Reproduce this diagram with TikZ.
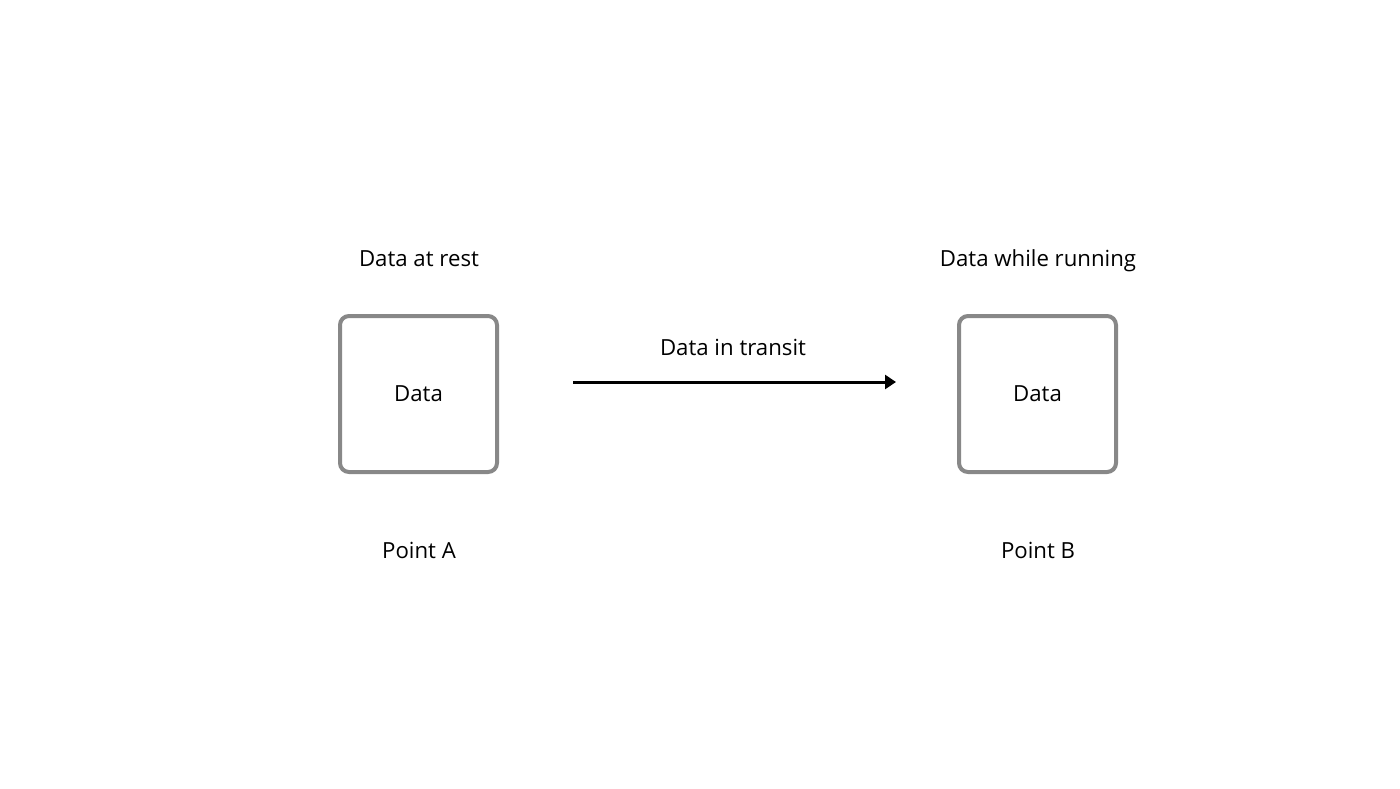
\documentclass[tikz,border=0pt]{standalone}
\usepackage{fontspec}
\setmainfont{Open Sans}
\usetikzlibrary{arrows.meta}
\definecolor{boxgray}{HTML}{888888}
\begin{document}
\begin{tikzpicture}[x=1pt,y=-1pt,
  lbl/.style={font=\fontsize{22.2}{26}\selectfont, inner sep=0pt, text height=16pt, text depth=0pt},
  databox/.style={draw=boxgray, line width=4pt, rounded corners=9pt, minimum width=157pt, minimum height=156pt, fill=white, font=\fontsize{22.2}{26}\selectfont},
  flow/.style={line width=3pt, -{Triangle[length=11pt,width=14pt]}}]
\useasboundingbox (0,0) rectangle (1400,788);
\node[databox] (a) at (418.5,394) {Data};
\node[databox] (b) at (1037.5,394) {Data};
\node[lbl] (ta) at (419,258) {Data at rest};
\node[lbl] (tb) at (1038,258) {Data while running};
\node[lbl] (pa) at (419,550) {Point A};
\node[lbl] (pb) at (1038,550) {Point B};
\coordinate (s) at (573,382);
\coordinate (e) at (896,382);
\draw[flow] (s) -- (e);
\node[lbl] (tt) at (733,347) {Data in transit};
\end{tikzpicture}
\end{document}
